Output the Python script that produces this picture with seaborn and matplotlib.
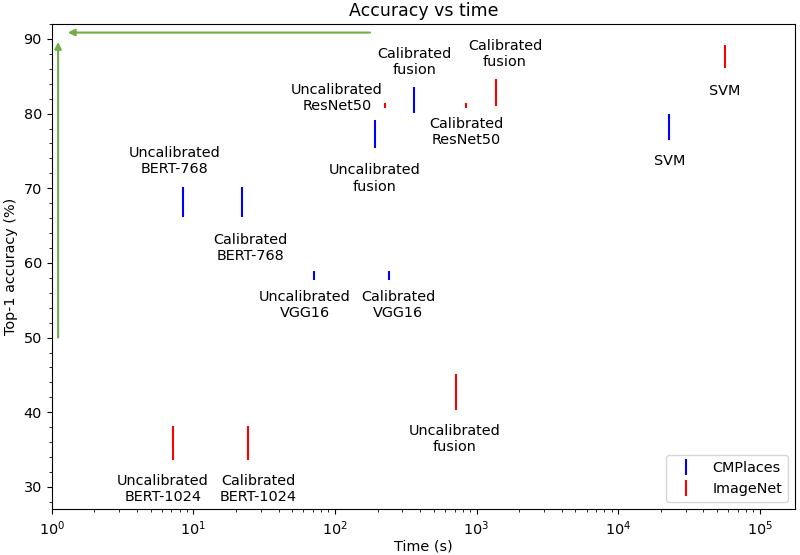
import pandas as pd
import matplotlib
matplotlib.use("Agg")
import matplotlib.pyplot as plt
from matplotlib.lines import Line2D
import seaborn as sns

# CMPlaces results (time in s, top-1 accuracy in %, +/- spread)
cm_models = ["Uncalibrated\nBERT-768", "Calibrated\nBERT-768", "Uncalibrated\nVGG16",
             "Calibrated\nVGG16", "Uncalibrated\nfusion", "Calibrated\nfusion", "SVM"]
cm_time = [8.5, 22, 71.6, 241, 193, 364, 2.3e4]
cm_acc = [68.2, 68.2, 58.3, 58.3, 77.25, 81.8, 78.25]
cm_err = [2.0, 2.0, 0.6, 0.6, 1.85, 1.7, 1.75]

# ImageNet results
in_models = ["Uncalibrated\nBERT-1024", "Calibrated\nBERT-1024", "Uncalibrated\nResNet50",
             "Calibrated\nResNet50", "Uncalibrated\nfusion", "Calibrated\nfusion", "SVM"]
in_time = [7.15, 24.5, 226, 843, 713, 1374, 5.69e4]
in_acc = [35.9, 35.9, 81.05, 81.05, 42.7, 82.8, 87.65]
in_err = [2.3, 2.3, 0.35, 0.35, 2.4, 1.8, 1.55]

# where the model names are written
cm_label_x = [7.37, 25.4, 61.5, 280, 192, 365, 2.3e4]
cm_label_y = [73.6, 62.0, 54.4, 54.4, 71.3, 86.9, 73.6]
in_label_x = [6.11, 28.6, 103.5, 843, 705, 1589, 5.69e4]
in_label_y = [29.7, 29.7, 82.1, 77.5, 36.4, 88.0, 83.0]

# build a long table: two rows (low / high) per model -> one vertical segment each
rows = []
for dataset, models, times, accs, errs in [("CMPlaces", cm_models, cm_time, cm_acc, cm_err),
                                           ("ImageNet", in_models, in_time, in_acc, in_err)]:
    for m, t, a, e in zip(models, times, accs, errs):
        rows.append({"dataset": dataset, "model": dataset + m, "time": t, "acc": a - e})
        rows.append({"dataset": dataset, "model": dataset + m, "time": t, "acc": a + e})
df = pd.DataFrame(rows)

palette = {"CMPlaces": "blue", "ImageNet": "red"}

plt.rcParams["font.size"] = 10.4

fig = plt.figure(figsize=(8, 5.55), dpi=100)
ax = fig.add_axes([0.0646, 0.0823, 0.9294, 0.8745])
ax.set_xscale("log")

sns.lineplot(data=df, x="time", y="acc", hue="dataset", units="model", estimator=None,
             sort=False, palette=palette, linewidth=1.5, solid_capstyle="butt",
             legend=False, ax=ax)

for lbl, x, y in zip(cm_models, cm_label_x, cm_label_y):
    ax.text(x, y, lbl, ha="center", va="center")
for lbl, x, y in zip(in_models, in_label_x, in_label_y):
    ax.text(x, y, lbl, ha="center", va="center")

# green arrows: "up is better", "left is better"
arrow_kw = dict(arrowstyle="-|>", color="#70ad47", lw=1.5, mutation_scale=10,
                shrinkA=0, shrinkB=0)
ax.annotate("", xy=(1.11, 89.6), xytext=(1.11, 50.0), arrowprops=arrow_kw)
ax.annotate("", xy=(1.3, 90.85), xytext=(177, 90.85), arrowprops=arrow_kw)

ax.set_xlim(1, 1.78e5)
ax.set_ylim(27, 92)
ax.minorticks_on()
ax.set_xlabel("Time (s)", labelpad=1)
ax.set_ylabel("Top-1 accuracy (%)")
ax.set_title("Accuracy vs time", fontsize=12.5)

handles = [Line2D([], [], color=palette[k], marker="|", linestyle="none",
                  markersize=11, markeredgewidth=1.5) for k in palette]
ax.legend(handles, list(palette), loc="lower right")

fig.savefig("out.png", dpi=100)
